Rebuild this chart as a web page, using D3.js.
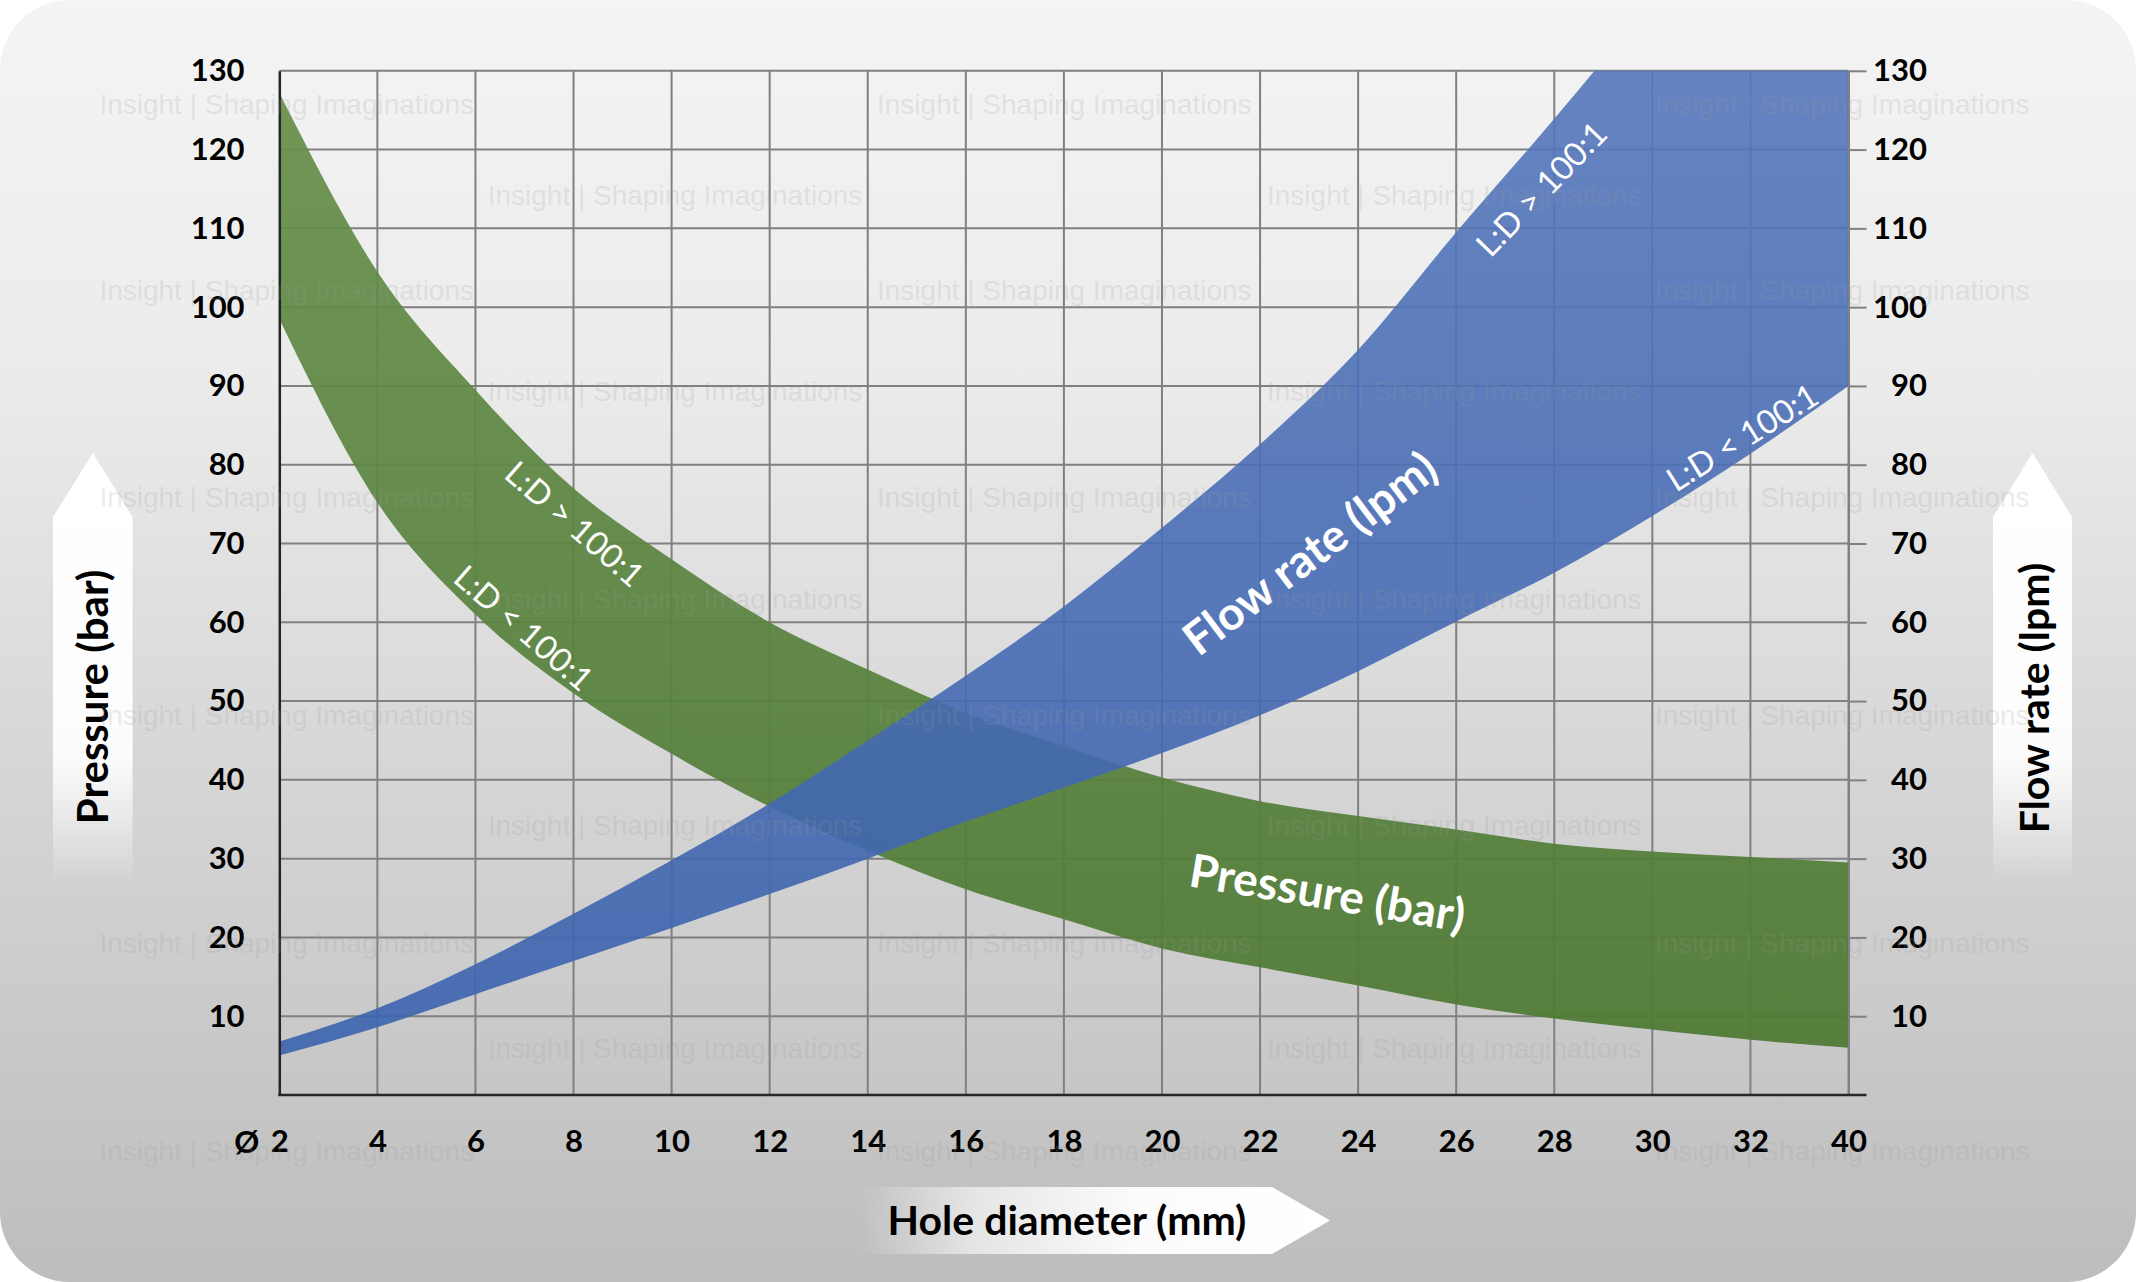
<!DOCTYPE html>
<html><head><meta charset="utf-8">
<script src="https://cdn.jsdelivr.net/npm/d3@7/dist/d3.min.js"></script>
<style>html,body{margin:0;padding:0;background:#fff;overflow:hidden}svg{display:block}</style>
</head><body>
<svg id="chart" width="2136" height="1282"></svg>
<script>
// ---- data ----
const diameters = ["2","4","6","8","10","12","14","16","18","20","22","24","26","28","30","32","40"];
const pressureHigh = [127.2,104.5,89.5,77,68,60,54,48.5,44.3,40.3,37.3,35.4,33.7,31.9,30.9,30.2,29.5]; // L:D > 100:1
const pressureLow  = [98.5,75.2,61,51,43.3,36.6,31,26.1,22.3,18.6,16.2,13.9,11.5,9.7,8.3,7.0,6.0];   // L:D < 100:1
const flowHigh     = [6.8,11.0,16.6,23.0,29.8,37.0,45.0,53.2,62,72,82.6,94.6,109.5,123.9,139,155,172]; // L:D > 100:1
const flowLow      = [5.0,8.6,12.8,17.0,21.2,25.5,30.0,34.7,39.0,43.4,48.2,53.8,60.1,66.3,73.5,81.4,90]; // L:D < 100:1
const yTicks = [10,20,30,40,50,60,70,80,90,100,110,120,130];
const watermark = "Insight | Shaping Imaginations";

// ---- layout ----
const W = 2136, H = 1282;
const P = {left: 279.3, right: 1848.5, top: 70.8, bottom: 1095};
const x = d3.scaleLinear().domain([0, diameters.length - 1]).range([P.left, P.right]);
const y = d3.scaleLinear().domain([0, 130]).range([P.bottom, P.top]);

const svg = d3.select('#chart');
const defs = svg.append('defs');

function grad(id, x1, y1, x2, y2, stops) {
  const g = defs.append('linearGradient').attr('id', id).attr('gradientUnits', 'userSpaceOnUse')
    .attr('x1', x1).attr('y1', y1).attr('x2', x2).attr('y2', y2);
  stops.forEach(s => g.append('stop').attr('offset', s[0]).attr('stop-color', s[1]).attr('stop-opacity', s[2] == null ? 1 : s[2]));
}
grad('bg', 0, 0, 0, H, [[0, '#f4f4f4'], [0.3, '#ebebeb'], [0.6, '#d6d6d6'], [1, '#bdbdbd']]);
grad('arrV', 0, 453, 0, 885, [[0, '#ffffff', 1], [0.7, '#ffffff', 0.93], [1, '#ffffff', 0]]);
grad('arrH', 858, 0, 1330, 0, [[0, '#ffffff', 0], [0.25, '#ffffff', 0.6], [0.6, '#ffffff', 0.95], [1, '#ffffff', 1]]);
grad('greenG', 0, P.top, 0, P.bottom, [[0, '#68904d'], [1, '#4c7832']]);
grad('blueG', 0, P.top, 0, P.bottom, [[0, '#5677bb'], [1, '#3a62ae']]);

defs.append('clipPath').attr('id', 'plotClip').append('rect')
  .attr('x', P.left).attr('y', P.top).attr('width', P.right - P.left + 5).attr('height', P.bottom - P.top);

// background
svg.append('rect').attr('width', W).attr('height', H).attr('fill', '#ffffff');
svg.append('rect').attr('width', W).attr('height', H).attr('rx', 70).attr('fill', 'url(#bg)');

// title arrows
svg.append('path').attr('d', 'M53,517 L92.8,453 L132.6,517 L132.6,885 L53,885 Z').attr('fill', 'url(#arrV)');
svg.append('path').attr('d', 'M1993,517 L2032.5,453 L2072,517 L2072,885 L1993,885 Z').attr('fill', 'url(#arrV)');
svg.append('path').attr('d', 'M858,1187 L1272,1187 L1330,1220.5 L1272,1254 L858,1254 Z').attr('fill', 'url(#arrH)');

// grid
const grid = svg.append('g').attr('stroke', '#808080').attr('stroke-width', 2);
grid.selectAll('.hg').data(yTicks).join('line')
  .attr('x1', P.left).attr('x2', P.right).attr('y1', d => y(d)).attr('y2', d => y(d));
grid.selectAll('.vg').data(d3.range(1, diameters.length)).join('line')
  .attr('x1', d => x(d)).attr('x2', d => x(d)).attr('y1', P.top).attr('y2', P.bottom);

// bands
const plot = svg.append('g').attr('clip-path', 'url(#plotClip)');
const area = (hi, lo) => d3.area().x((d, i) => x(i)).y0((d, i) => y(lo[i])).y1((d, i) => y(hi[i])).curve(d3.curveMonotoneX)(diameters);
plot.append('path').attr('d', area(pressureHigh, pressureLow)).attr('fill', 'url(#greenG)').attr('fill-opacity', 0.93);
plot.append('path').attr('d', area(flowHigh, flowLow)).attr('fill', 'url(#blueG)').attr('fill-opacity', 0.9);

// axes
const fontTick = 'Lato, "Open Sans", sans-serif';
const gl = svg.append('g').attr('transform', `translate(${P.left},0)`)
  .call(d3.axisLeft(y).tickValues(yTicks).tickSize(0).tickSizeOuter(0).tickPadding(34.7));
gl.select('.domain').attr('stroke', '#262626').attr('stroke-width', 2.5);
gl.selectAll('text').attr('font-family', fontTick).attr('font-weight', 700).attr('font-size', 31).attr('fill', '#000');

const gr = svg.append('g').attr('transform', `translate(${P.right},0)`)
  .call(d3.axisRight(y).tickValues(yTicks).tickSize(18).tickSizeOuter(0).tickPadding(0));
gr.select('.domain').attr('stroke', '#808080').attr('stroke-width', 2);
gr.selectAll('.tick line').attr('stroke', '#808080').attr('stroke-width', 2);
gr.selectAll('text').attr('text-anchor', 'end').attr('x', 78.5)
  .attr('font-family', fontTick).attr('font-weight', 700).attr('font-size', 31).attr('fill', '#000');

const gb = svg.append('g').attr('transform', `translate(0,${P.bottom})`)
  .call(d3.axisBottom(x).tickValues(d3.range(diameters.length)).tickFormat(i => diameters[i]).tickSize(0).tickSizeOuter(0).tickPadding(35));
gb.select('.domain').remove();
gb.selectAll('text').attr('font-family', fontTick).attr('font-weight', 700).attr('font-size', 31).attr('fill', '#000');
svg.append('line').attr('x1', P.left - 1).attr('x2', P.right + 18).attr('y1', P.bottom).attr('y2', P.bottom)
  .attr('stroke', '#262626').attr('stroke-width', 2.5);
svg.append('text').attr('x', x(0) - 20).attr('y', P.bottom + 58).attr('text-anchor', 'end')
  .attr('font-family', fontTick).attr('font-weight', 700).attr('font-size', 31).text('Ø');

// axis titles
svg.append('text').attr('transform', 'translate(108,697) rotate(-90)').attr('text-anchor', 'middle')
  .attr('font-family', fontTick).attr('font-weight', 700).attr('font-size', 42).text('Pressure (bar)');
svg.append('text').attr('transform', 'translate(2049,698) rotate(-90)').attr('text-anchor', 'middle')
  .attr('font-family', fontTick).attr('font-weight', 700).attr('font-size', 41).text('Flow rate (lpm)');
svg.append('text').attr('x', 1067).attr('y', 1235).attr('text-anchor', 'middle')
  .attr('font-family', fontTick).attr('font-weight', 700).attr('font-size', 41).text('Hole diameter (mm)');

// in-plot labels
const labels = [
  {t: 'L:D > 100:1', i: 3.02, v: 72.6, a: 41, s: 33, w: 400},
  {t: 'L:D < 100:1', i: 2.5, v: 59.4, a: 41, s: 33, w: 400},
  {t: 'Flow rate (lpm)', i: 10.5, v: 68.9, a: -37, s: 46, w: 700},
  {t: 'L:D > 100:1', i: 12.86, v: 115.1, a: -46, s: 33, w: 400},
  {t: 'L:D < 100:1', i: 14.91, v: 83.6, a: -32, s: 33, w: 400},
  {t: 'Pressure (bar)', i: 10.69, v: 25.8, a: 9.5, s: 46, w: 700}
];
svg.append('g').selectAll('text').data(labels).join('text')
  .attr('transform', d => `translate(${x(d.i)},${y(d.v)}) rotate(${d.a})`)
  .attr('text-anchor', 'middle').attr('dominant-baseline', 'central')
  .attr('font-family', fontTick).attr('font-weight', d => d.w).attr('font-size', d => d.s)
  .attr('fill', '#ffffff').text(d => d.t);

// watermark
const wmRows = [103.5, 194.8, 290, 391, 497, 599, 715, 825, 942.6, 1047.5, 1151];
const wm = svg.append('g').attr('font-family', '"Liberation Sans", Arial, sans-serif').attr('font-size', 28)
  .attr('fill', '#9a9a9a').attr('fill-opacity', 0.2);
wmRows.forEach((ry, r) => {
  const cols = r % 2 === 0 ? [99.4, 877, 1655] : [487.7, 1267];
  cols.forEach(cx => wm.append('text').attr('x', cx).attr('y', ry + 10).text(watermark));
});
</script>
</body></html>
